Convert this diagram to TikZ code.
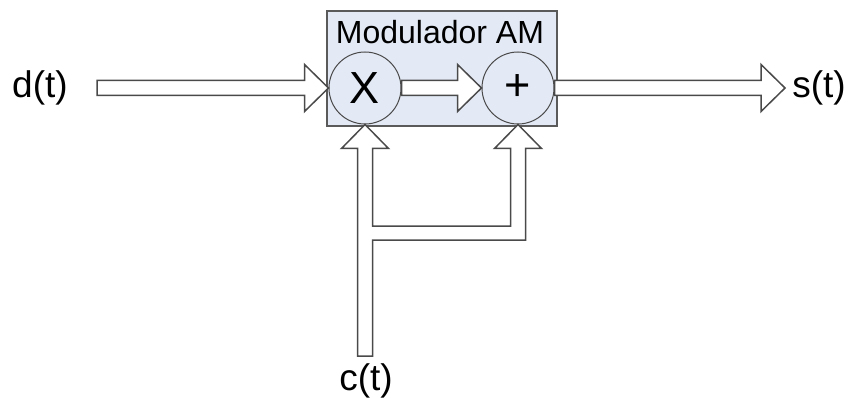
\documentclass[tikz,border=0pt]{standalone}
\usepackage{fontspec}
\setmainfont{Liberation Sans}
\usetikzlibrary{calc}
\definecolor{boxfill}{HTML}{E3E9F5}
\definecolor{boxline}{HTML}{5A5A5A}
\definecolor{arrline}{HTML}{4A4A4A}
\tikzset{
  modbox/.style={draw=boxline, line width=2pt, fill=boxfill, rectangle, inner sep=0pt},
  opcircle/.style={draw=arrline, line width=1pt, fill=boxfill, circle, inner sep=0pt, minimum size=72pt, font=\fontsize{45}{50}\selectfont},
  lbl/.style={inner sep=0pt, font=\fontsize{37}{42}\selectfont},
  ttl/.style={inner sep=0pt, font=\fontsize{32}{36}\selectfont},
  blockarrow/.style={draw=arrline, line width=1.5pt, fill=white, line join=miter}
}
\newcommand{\harrow}[2]{%
  \draw[blockarrow] ($(#1)+(0,-7.5)$) -- ($(#2)+(-24,-7.5)$) -- ($(#2)+(-24,-23.5)$) -- (#2)
    -- ($(#2)+(-24,23.5)$) -- ($(#2)+(-24,7.5)$) -- ($(#1)+(0,7.5)$) -- cycle;}
\begin{document}
\begin{tikzpicture}[x=1pt,y=-1pt]
  \useasboundingbox (0,0) rectangle (848,398);
  \node[modbox, minimum width=230pt, minimum height=115pt] (mod) at (442,68.5) {};
  \node[ttl] (title) at (440,32) {Modulador AM};
  \node[opcircle] (mul) at (365,88) {X};
  \node[opcircle] (add) at (518,88) {+};
  \node[lbl] (d) at (40,88) {d(t)};
  \node[lbl] (s) at (819,88) {s(t)};
  \node[lbl] (c) at (366,381) {c(t)};
  \coordinate (din) at (97,88);
  \coordinate (sout) at (785,88);
  % horizontal block arrows
  \harrow{din}{mul.west}
  \harrow{mul.east}{add.west}
  \harrow{add.east}{sout}
  % carrier compound arrow
  \coordinate (cin) at (365,356);
  \coordinate (bi) at (0,226);
  \coordinate (bo) at (0,240);
  \path (mul.south) ++(-7.5,0) coordinate (mL) ++(15,0) coordinate (mR);
  \path (add.south) ++(-7.5,0) coordinate (aL) ++(15,0) coordinate (aR);
  \draw[blockarrow]
    ($(cin)+(-7.5,0)$) -- ($(mL)+(0,24)$) -- ($(mul.south)+(-23.5,24)$) -- (mul.south)
    -- ($(mul.south)+(23.5,24)$) -- ($(mR)+(0,24)$) -- (mR |- bi) -- (aL |- bi)
    -- ($(aL)+(0,24)$) -- ($(add.south)+(-23.5,24)$) -- (add.south)
    -- ($(add.south)+(23.5,24)$) -- ($(aR)+(0,24)$) -- (aR |- bo) -- (mR |- bo)
    -- ($(cin)+(7.5,0)$) -- cycle;
\end{tikzpicture}
\end{document}
